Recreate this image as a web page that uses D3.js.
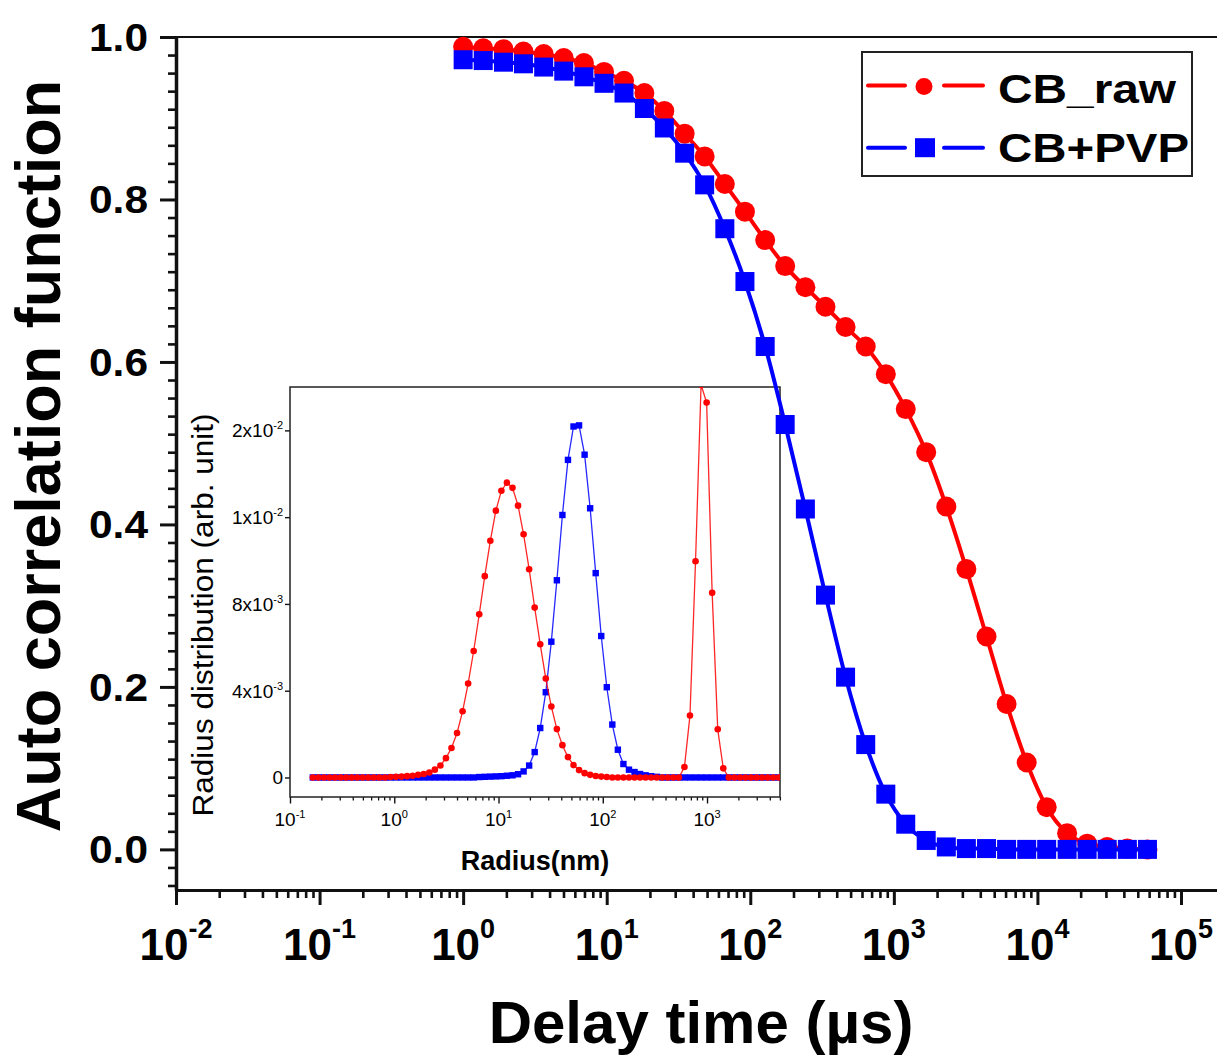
<!DOCTYPE html>
<html><head><meta charset="utf-8">
<script src="https://cdn.jsdelivr.net/npm/d3@7"></script>
<style>
body{margin:0;background:#fff;overflow:hidden}
svg{display:block}
text{font-family:"Liberation Sans",Arial,sans-serif;fill:#000}
</style>
</head><body>
<svg id="chart" width="1217" height="1059"></svg>
<script>
// ---------- main chart data ----------
const delayTime = [1.00, 1.38, 1.91, 2.63, 3.64, 5.02, 6.94, 9.58, 13.2, 18.3, 25.2, 34.9, 48.1, 66.5, 91.8, 127, 175, 242, 334, 461, 637, 879, 1210, 1680, 2320, 3200, 4420, 6100, 8420, 11600, 16100, 22200, 30600, 42300, 58400];
const cbRaw = [0.988, 0.986, 0.985, 0.982, 0.979, 0.974, 0.968, 0.957, 0.946, 0.931, 0.909, 0.881, 0.853, 0.819, 0.785, 0.750, 0.718, 0.692, 0.668, 0.643, 0.619, 0.585, 0.542, 0.489, 0.422, 0.345, 0.262, 0.179, 0.107, 0.052, 0.020, 0.007, 0.003, 0.001, 0.000];
const cbPvp = [0.972, 0.971, 0.969, 0.967, 0.963, 0.958, 0.951, 0.943, 0.931, 0.912, 0.888, 0.857, 0.818, 0.764, 0.699, 0.619, 0.523, 0.419, 0.313, 0.212, 0.129, 0.068, 0.031, 0.011, 0.003, 0.001, 0.001, 0.000, 0.000, 0.000, 0.000, 0.000, 0.000, 0.000, 0.000];
const seriesNames = ["CB_raw", "CB+PVP"];

const xMajorTicks = [1e-2, 1e-1, 1e0, 1e1, 1e2, 1e3, 1e4, 1e5];
const xTickExponents = ["-2", "-1", "0", "1", "2", "3", "4", "5"];
const yMajorTicks = [0, 0.2, 0.4, 0.6, 0.8, 1.0];
const yTickLabels = ["0.0", "0.2", "0.4", "0.6", "0.8", "1.0"];

// ---------- inset data ----------
const insetRadius = [0.1656, 0.1872, 0.2115, 0.2391, 0.2702, 0.3055, 0.3453, 0.3902, 0.4411, 0.4986,
  0.5636, 0.6370, 0.7200, 0.8138, 0.9200, 1.040, 1.175, 1.329, 1.502, 1.697,
  1.919, 2.169, 2.451, 2.771, 3.132, 3.540, 4.001, 4.523, 5.112, 5.778,
  6.531, 7.382, 8.345, 9.432, 10.66, 12.05, 13.62, 15.40, 17.40, 19.67,
  22.23, 25.13, 28.41, 32.11, 36.29, 41.02, 46.37, 52.41, 59.24, 66.96,
  75.68, 85.55, 96.69, 109.3, 123.5, 139.6, 157.8, 178.4, 201.7, 227.9,
  257.6, 291.2, 329.2, 372.0, 420.5, 475.3, 537.3, 607.3, 686.4, 775.9,
  877.0, 991.3, 1120, 1267, 1432, 1618, 1829, 2067, 2337, 2641,
  2985, 3374, 3814, 4311, 4873];
const insetCbRaw = [0, 0, 0, 0, 0, 0, 0, 0, 0, 0,
  0, 0, 0, 0, 0.00002, 0.00003, 0.00004, 0.00006, 0.00008, 0.00012,
  0.00016, 0.00023, 0.00036, 0.00055, 0.00089, 0.00136, 0.00205, 0.00305, 0.00433, 0.00583,
  0.00752, 0.00928, 0.01091, 0.01230, 0.01322, 0.01359, 0.01335, 0.01253, 0.01121, 0.00960,
  0.00783, 0.00614, 0.00456, 0.00327, 0.00223, 0.00149, 0.00094, 0.00057, 0.00034, 0.00020,
  0.00012, 0.00007, 0.00004, 0.00002, 0, 0, 0, 0, 0, 0,
  0, 0, 0, 0, 0, 0, 0, 0.00048, 0.00286, 0.00997,
  0.0181, 0.01728, 0.00851, 0.00222, 0.00042, 0, 0, 0, 0, 0,
  0, 0, 0, 0, 0];
const insetCbPvp = [0, 0, 0, 0, 0, 0, 0, 0, 0, 0,
  0, 0, 0, 0, 0, 0, 0, 0, 0, 0,
  0, 0, 0, 0, 0, 0, 0, 0, 0, 0,
  0.00002, 0.00003, 0.00004, 0.00005, 0.00006, 0.00008, 0.0001, 0.00015, 0.00028, 0.00055,
  0.00117, 0.00228, 0.00393, 0.00626, 0.00909, 0.01210, 0.01464, 0.01618, 0.01623, 0.01488,
  0.01241, 0.00942, 0.00652, 0.00416, 0.00244, 0.00128, 0.00062, 0.00036, 0.00025, 0.00016,
  0.0001, 0.00006, 0.00003, 0, 0, 0, 0, 0, 0, 0,
  0, 0, 0, 0, 0, 0, 0, 0, 0, 0,
  0, 0, 0, 0, 0];
const insetXTicks = [0.1, 1, 10, 100, 1000];
const insetXExponents = ["-1", "0", "1", "2", "3"];
const insetYTicks = [0, 0.004, 0.008, 0.012, 0.016];
const insetYTickMantissa = ["0", "4x10", "8x10", "1x10", "2x10"];
const insetYTickExponents = ["", "-3", "-3", "-2", "-2"];

// ---------- drawing ----------
const RED = "#ff0000", BLUE = "#0000ff", AX = "#111";
const svg = d3.select("#chart");

const decade = 143.57;
const x = d3.scaleLog().domain([1e-2, Math.pow(10, 5.26)]).range([176, 176 + 7.26 * decade]);
const y = d3.scaleLinear().domain([-0.05, 1.0]).range([890, 37]);

const xMinor = [];
for (let e = -2; e <= 5; e++) for (let m = 2; m <= 9; m++) { const v = m * Math.pow(10, e); if (v < x.domain()[1]) xMinor.push(v); }
const yMinor = [];
for (let i = -2; i <= 45; i++) { const v = i * 0.2 / 9; if (i % 9 !== 0 && v >= -0.05 && v <= 1.0) yMinor.push(v); }

// ---- inset ----
const xi = d3.scaleLog().domain([0.1, Math.pow(10, 3.7)]).range([290, 780]);
const yi = d3.scaleLinear().domain([-0.0009, 0.0180]).range([797, 387]);
const inset = svg.append("g");
inset.append("rect").attr("x", 290).attr("y", 387).attr("width", 490).attr("height", 410).attr("fill", "#fff");
svg.append("clipPath").attr("id", "insetClip").append("rect").attr("x", 290).attr("y", 387).attr("width", 490).attr("height", 410);

const xiMinor = [];
for (let e = -1; e <= 3; e++) for (let m = 2; m <= 9; m++) { const v = m * Math.pow(10, e); if (v < xi.domain()[1]) xiMinor.push(v); }

inset.append("g").attr("transform", "translate(0,797)")
  .call(d3.axisBottom(xi).tickValues(xiMinor).tickSize(3.5).tickSizeOuter(0).tickFormat(""))
  .call(g => { g.select(".domain").remove(); g.selectAll("line").attr("stroke", AX).attr("stroke-width", 1.3); });
inset.append("g").attr("transform", "translate(0,797)")
  .call(d3.axisBottom(xi).tickValues(insetXTicks).tickSize(6.5).tickSizeOuter(0).tickFormat(""))
  .call(g => { g.select(".domain").remove(); g.selectAll("line").attr("stroke", AX).attr("stroke-width", 1.4); });
inset.append("g").attr("transform", "translate(290,0)")
  .call(d3.axisLeft(yi).tickValues(insetYTicks).tickSize(5).tickSizeOuter(0).tickFormat(""))
  .call(g => { g.select(".domain").remove(); g.selectAll("line").attr("stroke", AX).attr("stroke-width", 1.4); });
inset.append("rect").attr("x", 290).attr("y", 387).attr("width", 490).attr("height", 410)
  .attr("fill", "none").attr("stroke", "#222").attr("stroke-width", 1.5);

insetXTicks.forEach((v, i) => {
  const t = inset.append("text").attr("x", xi(v)).attr("y", 826).attr("text-anchor", "middle").style("font-size", "19px");
  t.append("tspan").text("10");
  t.append("tspan").attr("dy", -8).style("font-size", "11px").text(insetXExponents[i]);
});
insetYTicks.forEach((v, i) => {
  const t = inset.append("text").attr("x", 283).attr("y", yi(v) + 7).attr("text-anchor", "end").style("font-size", "19px");
  t.append("tspan").text(insetYTickMantissa[i]);
  if (insetYTickExponents[i]) t.append("tspan").attr("dy", -8).style("font-size", "11px").text(insetYTickExponents[i]);
});
inset.append("text").attr("x", 535).attr("y", 870).attr("text-anchor", "middle")
  .style("font-size", "27px").style("font-weight", "bold").text("Radius(nm)");
inset.append("text").attr("transform", "translate(213,615) rotate(-90)").attr("text-anchor", "middle")
  .attr("textLength", 403).attr("lengthAdjust", "spacingAndGlyphs")
  .style("font-size", "29px").text("Radius distribution (arb. unit)");

const insetPlot = inset.append("g").attr("clip-path", "url(#insetClip)");
const insetLine = d3.line().x(d => xi(d[0])).y(d => yi(d[1]));
const insetPvpPts = insetRadius.map((r, i) => [r, insetCbPvp[i]]);
const insetRawPts = insetRadius.map((r, i) => [r, insetCbRaw[i]]);
insetPlot.append("path").datum(insetPvpPts).attr("d", insetLine).attr("fill", "none").attr("stroke", BLUE).attr("stroke-width", 1.3).attr("opacity", 0.85);
insetPlot.selectAll(".ipvp").data(insetPvpPts).enter().append("rect")
  .attr("x", d => xi(d[0]) - 3.2).attr("y", d => yi(d[1]) - 3.2).attr("width", 6.4).attr("height", 6.4).attr("fill", BLUE);
insetPlot.append("path").datum(insetRawPts).attr("d", insetLine).attr("fill", "none").attr("stroke", RED).attr("stroke-width", 1.3).attr("opacity", 0.85);
insetPlot.selectAll(".iraw").data(insetRawPts).enter().append("circle")
  .attr("cx", d => xi(d[0])).attr("cy", d => yi(d[1])).attr("r", 3.3).attr("fill", RED);

// ---- main axes ----
svg.append("line").attr("x1", 176).attr("x2", 1217).attr("y1", y(1.0)).attr("y2", y(1.0)).attr("stroke", AX).attr("stroke-width", 2);

svg.append("g").attr("transform", "translate(0,890)")
  .call(d3.axisBottom(x).tickValues(xMinor).tickSize(8).tickSizeOuter(0).tickFormat(""))
  .call(g => { g.select(".domain").remove(); g.selectAll("line").attr("stroke", AX).attr("stroke-width", 2.6); });
svg.append("g").attr("transform", "translate(0,890)")
  .call(d3.axisBottom(x).tickValues(xMajorTicks).tickSize(15).tickSizeOuter(0).tickFormat(""))
  .call(g => { g.select(".domain").attr("stroke", AX).attr("stroke-width", 3); g.selectAll("line").attr("stroke", AX).attr("stroke-width", 3); });

svg.append("g").attr("transform", "translate(176,0)")
  .call(d3.axisLeft(y).tickValues(yMinor).tickSize(8).tickSizeOuter(0).tickFormat(""))
  .call(g => { g.select(".domain").remove(); g.selectAll("line").attr("stroke", AX).attr("stroke-width", 2.6); });
svg.append("g").attr("transform", "translate(176,0)")
  .call(d3.axisLeft(y).tickValues(yMajorTicks).tickSize(16).tickSizeOuter(0).tickFormat(""))
  .call(g => { g.select(".domain").attr("stroke", AX).attr("stroke-width", 3.5); g.selectAll("line").attr("stroke", AX).attr("stroke-width", 3); });

xMajorTicks.forEach((v, i) => {
  const t = svg.append("text").attr("x", x(v)).attr("y", 960).attr("text-anchor", "middle")
    .style("font-size", "44px").style("font-weight", "bold");
  t.append("tspan").text("10");
  t.append("tspan").attr("dy", -22).style("font-size", "27px").text(xTickExponents[i]);
});
yMajorTicks.forEach((v, i) => {
  svg.append("text").attr("x", 148).attr("y", y(v) + 14).attr("text-anchor", "end")
    .attr("textLength", 59).attr("lengthAdjust", "spacingAndGlyphs")
    .style("font-size", "39px").style("font-weight", "bold").text(yTickLabels[i]);
});

svg.append("text").attr("x", 701).attr("y", 1043).attr("text-anchor", "middle")
  .style("font-size", "60px").style("font-weight", "bold").text("Delay time (µs)");
svg.append("text").attr("transform", "translate(60,456) rotate(-90)").attr("text-anchor", "middle")
  .style("font-size", "63px").style("font-weight", "bold").text("Auto correlation function");

// ---- main series ----
const mainLine = d3.line().x(d => x(d[0])).y(d => y(d[1])).curve(d3.curveMonotoneX);
const rawPts = delayTime.map((t, i) => [t, cbRaw[i]]);
const pvpPts = delayTime.map((t, i) => [t, cbPvp[i]]);
svg.append("path").datum(rawPts).attr("d", mainLine).attr("fill", "none").attr("stroke", RED).attr("stroke-width", 4);
svg.selectAll(".mraw").data(rawPts).enter().append("circle")
  .attr("cx", d => x(d[0])).attr("cy", d => y(d[1])).attr("r", 10).attr("fill", RED);
svg.append("path").datum(pvpPts).attr("d", mainLine).attr("fill", "none").attr("stroke", BLUE).attr("stroke-width", 4);
svg.selectAll(".mpvp").data(pvpPts).enter().append("rect")
  .attr("x", d => x(d[0]) - 9.5).attr("y", d => y(d[1]) - 9.5).attr("width", 19).attr("height", 19).attr("fill", BLUE);

// ---- legend ----
const lg = svg.append("g");
lg.append("rect").attr("x", 862).attr("y", 52).attr("width", 330).attr("height", 124)
  .attr("fill", "#fff").attr("stroke", "#222").attr("stroke-width", 2);
const legendRows = [{c: RED, y: 85.5, base: 103, len: 178}, {c: BLUE, y: 147.7, base: 162, len: 191}];
legendRows.forEach((r, i) => {
  lg.append("line").attr("x1", 868).attr("x2", 905).attr("y1", r.y).attr("y2", r.y).attr("stroke", r.c).attr("stroke-width", 4).attr("stroke-linecap", "round");
  lg.append("line").attr("x1", 944).attr("x2", 983).attr("y1", r.y).attr("y2", r.y).attr("stroke", r.c).attr("stroke-width", 4).attr("stroke-linecap", "round");
  if (i === 0) lg.append("circle").attr("cx", 924).attr("cy", r.y + 1).attr("r", 8.5).attr("fill", r.c);
  else lg.append("rect").attr("x", 915).attr("y", r.y - 9.5).attr("width", 20).attr("height", 19).attr("fill", r.c);
  lg.append("text").attr("x", 998).attr("y", r.base).attr("textLength", r.len).attr("lengthAdjust", "spacingAndGlyphs")
    .style("font-size", "41px").style("font-weight", "bold").text(seriesNames[i]);
});
</script>
</body></html>
